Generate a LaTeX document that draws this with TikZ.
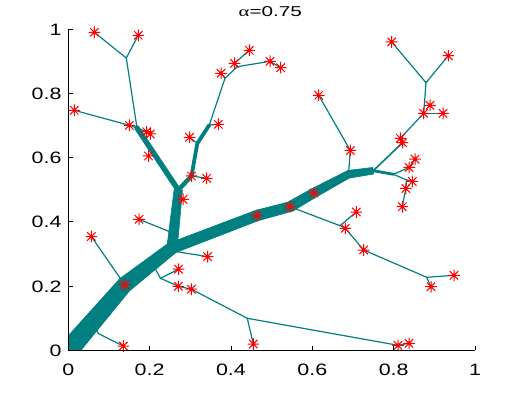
\documentclass[tikz,border=0pt]{standalone}
\usepackage{fontspec}
\usepackage{graphicx}
\usetikzlibrary{calc}
\setmainfont{Liberation Sans}
\newfontfamily\alphafont{Liberation Serif}
\newcommand\widetext[1]{\scalebox{1.3}[1]{#1}}
\newcommand\widetitle[1]{\scalebox{1.45}[1]{#1}}
\definecolor{treecol}{RGB}{0,128,128}
\begin{document}
\begin{tikzpicture}[x=1pt,y=-1pt,
  edge/.style={draw=treecol,line width=1.2pt,line cap=round,line join=round},
  band/.style={fill=treecol,draw=treecol,line width=0.6pt,line join=round},
  axisline/.style={draw=black,line width=0.9pt},
  ticklabel/.style={font=\fontsize{16.5}{19}\selectfont,inner sep=0pt},
  redstar/.pic={\draw[red,line width=1pt] (-5.8,0)--(5.8,0) (0,-5.8)--(0,5.8) (-4.2,-4.2)--(4.2,4.2) (-4.2,4.2)--(4.2,-4.2); \fill[red] (0,0) circle (1.9);}
]
\useasboundingbox (0,0) rectangle (525,393);
\fill[white] (0,0) rectangle (525,393);
% ---------- points ----------
\coordinate (O) at (68.3,350.3);
\coordinate (G) at (93,321.6);
\coordinate (H) at (152,263);
\coordinate (J1) at (172,248);
\coordinate (J2) at (178.3,190);
\coordinate (jA) at (126.3,58);
\coordinate (jB) at (137,128);
\coordinate (jC) at (197.3,143.5);
\coordinate (jD) at (209.3,125);
\coordinate (jE) at (225,78.3);
\coordinate (jE2) at (237.3,66.7);
\coordinate (jG) at (98.3,333.5);
\coordinate (jI) at (160.5,278.3);
\coordinate (jJ) at (247.3,318.3);
\coordinate (jK) at (170.5,232);
\coordinate (jL) at (175.5,251.5);
\coordinate (jM) at (348.5,174.3);
\coordinate (jN) at (373.3,170.7);
\coordinate (jO) at (340,225.7);
\coordinate (jP) at (426.7,277.3);
\coordinate (jQ) at (426,82.7);
\coordinate (jR) at (393.3,174.3);
\coordinate (jS) at (406.7,180);
\coordinate (s1) at (94.3,32.3);
\coordinate (s2) at (138.3,35.3);
\coordinate (s3) at (74.3,110.3);
\coordinate (s4) at (129.3,125.3);
\coordinate (s5) at (146.7,131.7);
\coordinate (s6) at (150.3,134);
\coordinate (s7) at (148.5,156);
\coordinate (s8) at (183,199.3);
\coordinate (s9) at (189.5,137.3);
\coordinate (s10) at (191.5,176);
\coordinate (s11) at (206.7,178.3);
\coordinate (s12) at (218.3,124.3);
\coordinate (s13) at (221,73.3);
\coordinate (s14) at (234.5,63.3);
\coordinate (s15) at (249.3,50.3);
\coordinate (s16) at (270,61.3);
\coordinate (s17) at (280.7,67.7);
\coordinate (s18) at (391.7,42);
\coordinate (s19) at (448.3,55.7);
\coordinate (s20) at (430,105.3);
\coordinate (s21) at (423.7,113.3);
\coordinate (s22) at (443,113.3);
\coordinate (s23) at (318.7,95.3);
\coordinate (s24) at (350.3,150.5);
\coordinate (s25) at (400.3,138.3);
\coordinate (s26) at (402.5,142.7);
\coordinate (s27) at (415,159.2);
\coordinate (s28) at (409.2,167.5);
\coordinate (s29) at (412.3,181.5);
\coordinate (s30) at (405.8,188.5);
\coordinate (s31) at (402.3,206.7);
\coordinate (s32) at (313.8,193);
\coordinate (s33) at (290,206.7);
\coordinate (s34) at (257,215.5);
\coordinate (s35) at (139,219.3);
\coordinate (s36) at (91.3,236.5);
\coordinate (s37) at (207.5,256.6);
\coordinate (s38) at (178.5,269.2);
\coordinate (s39) at (124.7,284.7);
\coordinate (s40) at (178.4,286.3);
\coordinate (s41) at (191.4,289.2);
\coordinate (s42) at (123.3,346);
\coordinate (s43) at (253.3,344);
\coordinate (s44) at (356.3,212);
\coordinate (s45) at (345.3,228.3);
\coordinate (s46) at (363.7,250);
\coordinate (s47) at (454,275.3);
\coordinate (s48) at (431,286.7);
\coordinate (s49) at (398,345.3);
\coordinate (s50) at (409,343.3);
% ---------- tree ----------
\begin{scope}
\clip (68.3,29.3) rectangle (475,350.3);
% thin edges
\foreach \a/\b in {jA/s1,jA/s2,jA/jB,s3/s4,s4/jB,jB/s5,s5/s6,
  s10/s11,jC/s9,jD/s12,jD/jE,jE/s13,jE/jE2,jE2/s14,s14/s15,jE2/s16,s16/s17,
  s35/jK,s37/jL,s36/s39,s42/jG,jG/G,jI/H,jI/s38,jI/s40,s40/s41,s41/jJ,jJ/s43,jJ/s49,s49/s50,
  s33/jO,jO/s45,jO/s44,s45/s46,s46/jP,jP/s47,jP/s48,
  jM/s24,s24/s23,
  s26/s25,s25/s21,s21/s22,s21/jQ,jQ/s18,jQ/s19,
  jR/s28,s28/s27,jR/jS,jS/s29,jS/s30,s30/s31}
  \draw[edge] (\a) -- (\b);
\draw[edge,line width=1.6pt] (jN) -- (s26);
\draw[edge,line width=2.8pt] (jN) -- (jR);
% upper-left branch
\draw[edge,line width=5.4pt] (J2) -- (jB);
\draw[edge,line width=4.4pt] (J2) -- (s10);
\draw[edge,line width=3.8pt] (s10) -- (jC);
\draw[edge,line width=3.8pt] (jC) -- (jD);
% vertical branch (tapered band)
\path[band]
  ($(J1)!5.2pt!90:(J2)$) -- ($(J2)!4.2pt!-90:(J1)$) -- ($(J2)!4.2pt!90:(J1)$) -- ($(J1)!5.2pt!-90:(J2)$) -- cycle;
% right branch (tapered band)
\path[band]
  ($(J1)!5.6pt!90:(s34)$) -- ($(s34)!5.3pt!90:(s33)$) -- ($(s33)!5.1pt!90:(s32)$)
  -- ($(s32)!4.7pt!90:(jM)$) -- ($(jM)!3.9pt!90:(jN)$) -- ($(jN)!3.3pt!-90:(jM)$)
  -- ($(jN)!3.3pt!90:(jM)$) -- ($(jM)!3.9pt!-90:(jN)$) -- ($(s32)!4.7pt!-90:(jM)$)
  -- ($(s33)!5.1pt!-90:(s32)$) -- ($(s34)!5.3pt!-90:(s33)$) -- ($(J1)!5.6pt!-90:(s34)$) -- cycle;
% trunk (tapered band)
\path[band]
  ($(O)!9.8pt!90:(s39)$) -- ($(s39)!7.8pt!90:(J1)$) -- ($(J1)!6pt!-90:(s39)$)
  -- ($(J1)!6pt!90:(s39)$) -- ($(s39)!7.8pt!-90:(J1)$) -- ($(O)!9.8pt!-90:(s39)$) -- cycle;
\fill[treecol] (J1) circle (6pt);
\end{scope}
% ---------- markers ----------
\foreach \p in {s1,s2,s3,s4,s5,s6,s7,s8,s9,s10,s11,s12,s13,s14,s15,s16,s17,s18,s19,s20,
  s21,s22,s23,s24,s25,s26,s27,s28,s29,s30,s31,s32,s33,s34,s35,s36,s37,s38,s39,s40,
  s41,s42,s43,s44,s45,s46,s47,s48,s49,s50}
  \pic at (\p) {redstar};
% ---------- axes ----------
\coordinate (ytop) at (68.3,29.3);
\coordinate (orig) at (68.3,350.3);
\coordinate (xend) at (475,350.3);
\draw[axisline] (ytop) -- (orig) -- (xend);
\foreach \k/\t in {0/0,1/0.2,2/0.4,3/0.6,4/0.8,5/1}{
  \draw[axisline] (68.3+\k*81.34,350.3) -- ++(0,-4.5);
  \node[ticklabel,anchor=base] (xl\k) at (68.3+\k*81.34,375.5) {\widetext{\t}};
  \draw[axisline] (68.3,350.3-\k*64.2) -- ++(4.5,0);
  \node[ticklabel,anchor=base east] (yl\k) at (61.7,350.3-\k*64.2+6) {\widetext{\t}};
}
\node[font=\fontsize{14.3}{17}\selectfont,inner sep=0pt,anchor=base] (title) at (270.3,16.9) {\widetitle{{\alphafont α}=0.75}};
\end{tikzpicture}
\end{document}
